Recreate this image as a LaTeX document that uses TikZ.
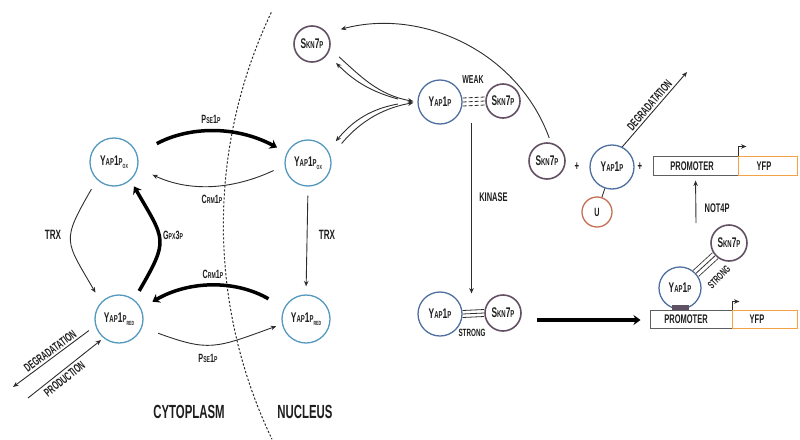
\documentclass[tikz,border=0pt]{standalone}
\usepackage{fontspec}
\newfontfamily\cf{Liberation Sans}[FakeStretch=0.6]
\usetikzlibrary{arrows.meta,calc}
\definecolor{blueL}{RGB}{84,152,190}
\definecolor{blueD}{RGB}{78,112,160}
\definecolor{sknC}{RGB}{100,80,100}
\definecolor{uC}{RGB}{196,112,82}
\definecolor{yfpC}{RGB}{244,162,72}
\definecolor{promC}{RGB}{95,95,95}
\definecolor{bindC}{RGB}{95,80,100}
\definecolor{lineC}{RGB}{45,45,45}
\definecolor{txt}{RGB}{30,30,30}
\newcommand\Lg{\fontsize{14}{14}\selectfont}
\newcommand\Sm{\fontsize{10}{10}\selectfont}
\newcommand\Lb{\fontsize{12}{12}\selectfont}
\newcommand\Ls{\fontsize{8.5}{8.5}\selectfont}
\newcommand\Yap{{\Lg Y{\Sm AP}1{\Sm P}}}
\newcommand\Skn{{\Lg S{\Sm KN}7{\Sm P}}}
\newcommand\Subx[1]{\raisebox{-2.5pt}{\fontsize{6}{6}\selectfont #1}}
\newcommand\Fsz[1]{\fontsize{#1}{#1}\selectfont}
\begin{document}
\begin{tikzpicture}[x=1pt,y=-1pt,font=\cf\bfseries,
  every node/.style={text=txt},
  yapL/.style={circle,draw=blueL,line width=1.3pt,inner sep=0pt,minimum size=48pt},
  yapD/.style={circle,draw=blueD,line width=1.3pt,inner sep=0pt,minimum size=44pt},
  skn/.style={circle,draw=sknC,line width=1.6pt,inner sep=0pt,minimum size=36pt},
  ucirc/.style={circle,draw=uC,line width=1.3pt,inner sep=0pt,minimum size=30pt},
  prombox/.style={rectangle,draw=promC,line width=1pt,inner sep=0pt},
  yfpbox/.style={rectangle,draw=yfpC,line width=1pt,inner sep=0pt},
  thinA/.style={draw=lineC,line width=0.9pt,-{Stealth[length=5.5pt,width=4.5pt]}},
  thickA/.style={draw=black,line width=3.5pt,-{Stealth[length=7pt,width=10pt]}},
  bond/.style={draw=lineC,line width=0.8pt},
  lab/.style={inner sep=1pt}]
\useasboundingbox (0,0) rectangle (800,439);

% membrane boundary
\draw[lineC,line width=1pt,dash pattern=on 2.2pt off 1.8pt] (271.3,12.4) arc[start angle=205.4,end angle=154.4,radius=495.8];

% nodes
\node[yapL] (oxc) at (114,162) {\Yap\Subx{OX}};
\node[yapL] (redc) at (119,319) {\Yap\Subx{RED}};
\node[yapL,minimum size=46pt] (oxn) at (308,163) {\Yap\Subx{OX}};
\node[yapL] (redn) at (306,319) {\Yap\Subx{RED}};
\node[skn] (skt) at (312,44) {\Skn};
\node[yapD] (yt) at (440,102) {\Yap};
\node[skn,minimum size=34pt] (skw) at (503,101) {\Skn};
\node[yapD] (yb) at (440,314) {\Yap};
\node[skn] (skb) at (503,313) {\Skn};
\node[skn] (skr) at (547,161) {\Skn};
\node[yapD] (yr) at (612,167) {\Yap};
\node[ucirc] (u) at (597,212) {\Fsz{12}U};
\node[yapD,minimum size=42pt] (ycx) at (680,288) {\Yap};
\node[skn] (skx) at (729,243) {\Skn};

% promoter boxes
\node[prombox,minimum width=85pt,minimum height=19pt] (p1) at (695.5,165.5) {};
\node[yfpbox,minimum width=59pt,minimum height=19pt] (f1) at (767.5,165.5) {};
\node[lab] (p1t) at (692,166) {\Fsz{12.5}PROMOTER};
\node[lab] (f1t) at (764,166) {\Fsz{12.5}YFP};
\node[prombox,minimum width=82pt,minimum height=18pt] (p2) at (691,319) {};
\node[yfpbox,minimum width=65pt,minimum height=18pt] (f2) at (764.5,319) {};
\node[lab] (p2t) at (686,319.5) {\Fsz{12.5}PROMOTER};
\node[lab] (f2t) at (757,319.5) {\Fsz{12.5}YFP};
\node[fill=bindC,minimum width=17pt,minimum height=5pt,inner sep=0pt] (bs) at (680.5,307.5) {};

\draw[thinA] (p1.north east) -- ++(0,-9) -- ++(8,0);
\draw[thinA] (p2.north east) -- ++(0,-8) -- ++(7,0);

% cytoplasm / nucleus shuttling
\draw[thickA,shorten <=22pt,shorten >=11pt] (oxc.19) to[out=28,in=152] (oxn.154);
\draw[thinA,shorten <=12pt,shorten >=16pt] (oxn.186.5) to[out=205,in=-25] (oxc.-14.4);
\draw[thinA,shorten <=11pt,shorten >=11pt] (oxc.226) to[out=240,in=120,looseness=1.5] (redc.137);
\draw[thickA,shorten <=10pt,shorten >=7pt] (redc.52) to[out=60,in=-60,looseness=1.5] (oxc.-48);
\draw[thickA,shorten <=18pt,shorten >=13pt] (redn.153) to[out=150,in=30] (redc.26);
\draw[thinA,shorten <=17pt,shorten >=6pt] (redc.-20) to[out=-20,in=200,looseness=1.3] (redn.192);
\draw[thinA,shorten <=9pt,shorten >=8pt] (oxn.south) -- (redn.north);

\node[lab] (l1) at (211,119) {\Lb P{\Ls SE}1{\Ls P}};
\node[lab] (l2) at (212,199) {\Lb C{\Ls RM}1{\Ls P}};
\node[lab] (l3) at (53,235) {\Fsz{13.5}TRX};
\node[lab] (l4) at (173,235) {\Lb G{\Ls PX}3{\Ls P}};
\node[lab] (l5) at (213,274) {\Lb C{\Ls RM}1{\Ls P}};
\node[lab] (l6) at (208,358) {\Lb P{\Ls SE}1{\Ls P}};
\node[lab] (l7) at (327,235) {\Fsz{13.5}TRX};

% degradation / production
\coordinate (dL) at (13,387);
\coordinate (pL) at (28,398);
\draw[thinA,shorten <=8pt] (redc.196) -- (dL) node[midway,above,sloped,inner sep=2pt] {\Fsz{12}DEGRADATATION};
\draw[thinA,shorten >=3pt] (pL) -- (redc.231) node[pos=0.42,below,sloped,inner sep=3pt] {\Fsz{12}PRODUCTION};

\node[lab] (cyt) at (189,412) {\Fsz{19}CYTOPLASM};
\node[lab] (nuc) at (305,412) {\Fsz{19}NUCLEUS};

% Skn7p / Yap1p association
\coordinate (cv1) at (398,99);
\coordinate (cv2) at (398,104);
\draw[thinA,shorten <=12pt,shorten >=4pt] (skt.-15) to[out=-42,in=170] (yt.west);
\draw[thinA,shorten >=12pt] (cv1) to[out=165,in=-45] (skt.-34);
\draw[thinA,shorten <=17pt,shorten >=4pt] (oxn.16) to[out=50,in=190] (yt.west);
\draw[thinA,shorten >=12pt] (cv2) to[out=190,in=50] (oxn.32);

% weak bond
\foreach \d in {-4,0,4}
  \draw[bond,dash pattern=on 4pt off 2pt] ([yshift=\d pt]yt.east) -- ([yshift=\d pt]skw.west);
\node[lab] (weak) at (473,80) {\Fsz{11.5}WEAK};

% kinase
\draw[thinA,shorten <=21pt,shorten >=20pt] ($(yt)!0.5!(skw)$) -- ($(yb)!0.5!(skb)$)
  node[pos=0.45,right=4pt] {\Fsz{12.5}KINASE};

% strong bond
\foreach \d in {-3.5,0,3.5}
  \draw[bond] ([yshift=\d pt]yb.east) -- ([yshift=\d pt]skb.west);
\node[lab] (strong1) at (472,333) {\Fsz{10.5}STRONG};

% big arrow
\coordinate (bigS) at (537,320);
\draw[thickA,shorten >=9pt] (bigS) -- (p2.west |- bigS);

% complex on promoter
\draw[bond,double=white,double distance=7.2pt] (ycx) -- (skx);
\draw[bond] (ycx) -- (skx);
\node[lab,rotate=45] (strong2) at (719,277) {\Fsz{10.5}STRONG};
\node[fill=bindC,minimum width=17pt,minimum height=5pt,inner sep=0pt] at (bs) {};

% NOT4P
\coordinate (nS) at (696,223);
\draw[thinA,shorten >=5pt] (nS) -- (p1.south) node[pos=0.31,right=5pt] {\Fsz{12.5}NOT4P};

% right reaction
\node[lab] (plus1) at (577,167) {\Fsz{13}+};
\node[lab] (plus2) at (640,167) {\Fsz{13}+};
\draw[lineC,line width=0.9pt] (yr) -- (u);
\coordinate (dR) at (687,72);
\draw[thinA] (yr.63) -- (dR) node[midway,above,sloped,inner sep=2pt] {\Fsz{12}DEGRADATATION};

% Skn7p return arc
\draw[thinA,shorten <=5pt,shorten >=14pt] (skr.78) to[out=110,in=15] (skt.36);
\end{tikzpicture}
\end{document}
